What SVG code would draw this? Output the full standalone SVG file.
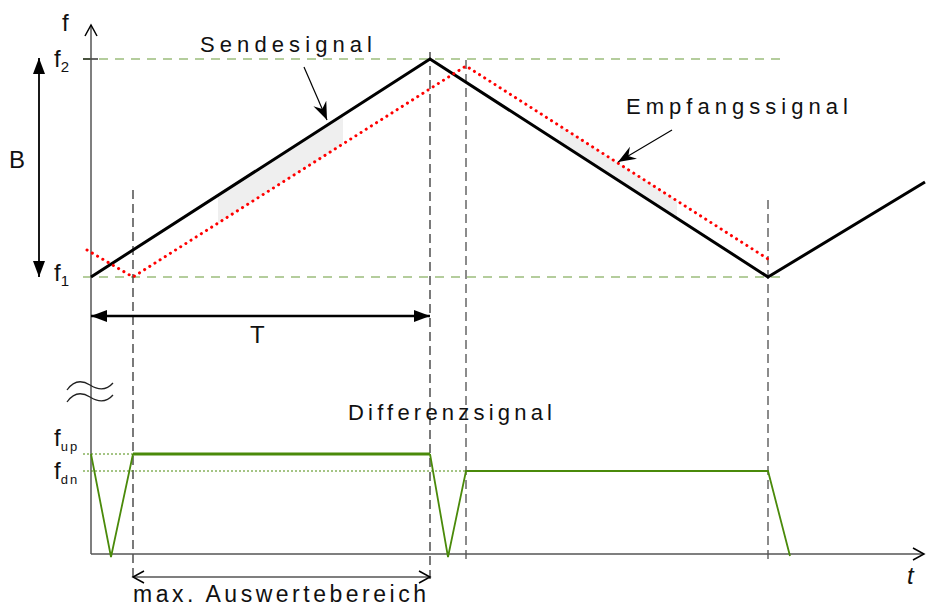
<svg xmlns="http://www.w3.org/2000/svg" width="926" height="606" viewBox="0 0 926 606">
<style>
.txt{font-family:"Liberation Sans",Arial,sans-serif;fill:#111}
.ax{stroke:#555;stroke-width:1.5;fill:none}
.gd{stroke:#6b9b3a;stroke-width:1.2;stroke-dasharray:9 7;fill:none}
.vd{stroke:#222;stroke-width:1.2;stroke-dasharray:9 5;fill:none}
.vg{stroke:#666;stroke-width:1.5;stroke-dasharray:9 5;fill:none}
.tx{stroke:#000;stroke-width:3;fill:none;stroke-linejoin:miter}
.rx{stroke:#ff0000;stroke-width:3;stroke-dasharray:0.1 6;stroke-linecap:round;fill:none}
.gs{stroke:#4a8a0a;stroke-width:1.8;fill:none}
.gdot{stroke:#4a8a0a;stroke-width:1;stroke-dasharray:2 2;fill:none}
.shade{fill:#efefef}
</style>
<defs>
<marker id="open" markerWidth="14" markerHeight="14" refX="12" refY="7" orient="auto" markerUnits="userSpaceOnUse">
<path d="M1,1 L12,7 L1,13" fill="none" stroke="#000" stroke-width="1.5"/>
</marker>
<marker id="fill" markerWidth="18" markerHeight="14" refX="16" refY="7" orient="auto" markerUnits="userSpaceOnUse">
<path d="M0,1 L16,7 L0,13 Z" fill="#000"/>
</marker>
<marker id="barb" markerWidth="20" markerHeight="16" refX="18" refY="8" orient="auto" markerUnits="userSpaceOnUse">
<path d="M0,1 L18,8 L0,15 L6,8 Z" fill="#000"/>
</marker>
</defs>

<g id="shading">
<polygon class="shade" points="218,195 343,115 343,144 218,223"/>
<polygon class="shade" points="560,126 677,201 677,218 560,143"/>
</g>

<g id="gridlines">
<line class="gd" x1="83" y1="59" x2="783" y2="59"/>
<line class="gd" x1="83" y1="277" x2="783" y2="277"/>
<line x1="83" y1="59" x2="98" y2="59" stroke="#000" stroke-width="1.2"/>
<line class="vd" x1="133" y1="190" x2="133" y2="582"/>
<line class="vd" x1="430" y1="52" x2="430" y2="582"/>
<line class="vg" x1="466" y1="60" x2="466" y2="560"/>
<line class="vg" x1="768" y1="200" x2="768" y2="562"/>
</g>

<g id="axes">
<line class="ax" x1="91" y1="554" x2="91" y2="25" marker-end="url(#open)"/>
<line class="ax" x1="91" y1="554" x2="924" y2="554" marker-end="url(#open)"/>
<path d="M67,390 C74,380 82,380 90,385 C98,390 106,391 113,383" fill="none" stroke="#222" stroke-width="1.3"/>
<path d="M67,402 C74,392 82,392 90,397 C98,402 106,403 113,395" fill="none" stroke="#222" stroke-width="1.3"/>
</g>

<g id="signals">
<polyline class="tx" points="91,277 430,59 768,277 925,182"/>
<polyline class="rx" points="87,250 133,277 466,66 768,259"/>
<line x1="133" y1="454" x2="430" y2="454" stroke="#4a8a0a" stroke-width="3"/>
<line class="gdot" x1="83" y1="454" x2="133" y2="454"/>
<line class="gdot" x1="83" y1="471" x2="466" y2="471"/>
<polyline class="gs" points="91,454 111,557 133,454"/>
<polyline class="gs" points="430,454 448,557 466,471 768,471 790,556"/>
</g>

<g id="connectors">
<line x1="39" y1="160" x2="39" y2="58" stroke="#000" stroke-width="1.8" marker-end="url(#fill)"/>
<line x1="39" y1="160" x2="39" y2="277" stroke="#000" stroke-width="1.8" marker-end="url(#fill)"/>
<line x1="250" y1="316" x2="91" y2="316" stroke="#000" stroke-width="2.5" marker-end="url(#fill)"/>
<line x1="250" y1="316" x2="430" y2="316" stroke="#000" stroke-width="2.5" marker-end="url(#fill)"/>
<line x1="280" y1="577" x2="133" y2="577" stroke="#000" stroke-width="1.2" marker-end="url(#open)"/>
<line x1="280" y1="577" x2="430" y2="577" stroke="#000" stroke-width="1.2" marker-end="url(#open)"/>
<line x1="304" y1="67" x2="327" y2="120" stroke="#000" stroke-width="1.2" marker-end="url(#barb)"/>
<line x1="672" y1="130" x2="618" y2="162" stroke="#000" stroke-width="1.2" marker-end="url(#barb)"/>
</g>

<g id="labels">
<text class="txt" x="200" y="52" font-size="22" textLength="172" lengthAdjust="spacing">Sendesignal</text>
<text class="txt" x="626" y="114" font-size="22" textLength="222" lengthAdjust="spacing">Empfangssignal</text>
<text class="txt" x="348" y="420" font-size="22" textLength="204" lengthAdjust="spacing">Differenzsignal</text>
<text class="txt" x="133" y="602" font-size="23" textLength="293" lengthAdjust="spacing">max. Auswertebereich</text>
<text class="txt" x="250" y="343" font-size="24">T</text>
<text class="txt" x="9" y="168" font-size="24">B</text>
<text class="txt" x="62" y="31" font-size="24">f</text>
<text class="txt" x="54" y="67" font-size="24">f<tspan font-size="15" dy="5">2</tspan></text>
<text class="txt" x="54" y="281" font-size="24">f<tspan font-size="15" dy="5">1</tspan></text>
<text class="txt" x="54" y="446" font-size="24">f<tspan font-size="13" dy="5" letter-spacing="2">up</tspan></text>
<text class="txt" x="54" y="479" font-size="24">f<tspan font-size="13" dy="5" letter-spacing="2">dn</tspan></text>
<text class="txt" x="907" y="584" font-size="24" font-style="italic" font-family="Liberation Serif,serif">t</text>
</g>
</svg>
